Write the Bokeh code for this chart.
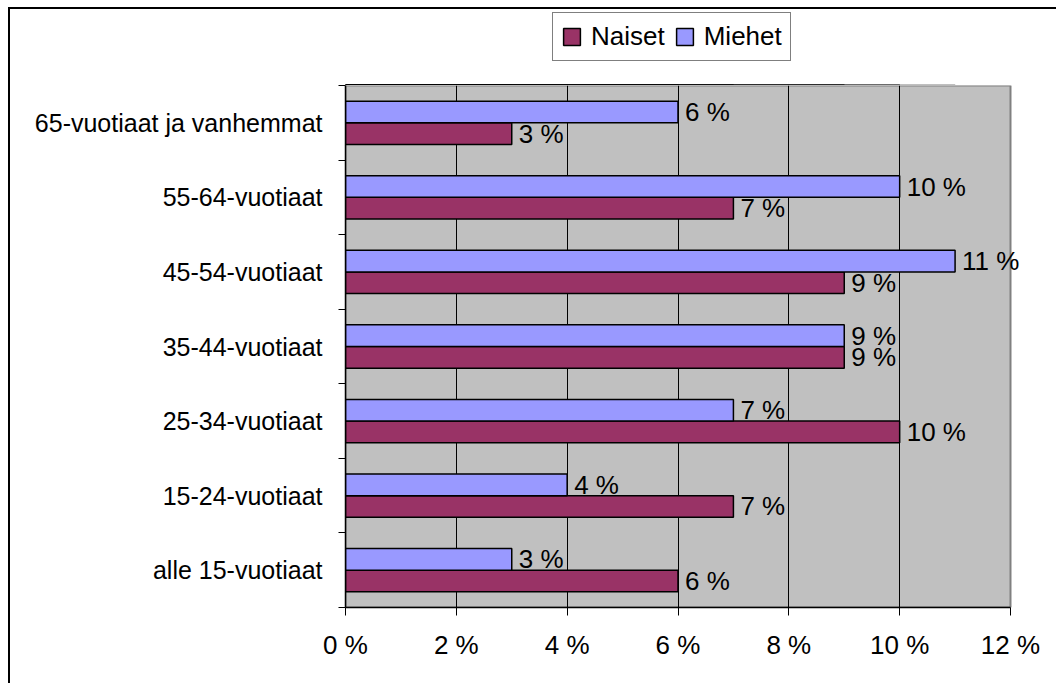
import numpy as np
from bokeh.plotting import figure
from bokeh.layouts import column
from bokeh.models import (ColumnDataSource, Range1d, FixedTicker, PrintfTickFormatter,
                          CustomJSTickFormatter, Legend, LegendItem)
from bokeh.transform import dodge
from bokeh.core.properties import value
from bokeh.embed import file_html
from bokeh.resources import INLINE

categories = ["alle 15-vuotiaat", "15-24-vuotiaat", "25-34-vuotiaat", "35-44-vuotiaat",
              "45-54-vuotiaat", "55-64-vuotiaat", "65-vuotiaat ja vanhemmat"]
naiset = [6, 7, 10, 9, 9, 7, 3]
miehet = [3, 4, 7, 9, 11, 10, 6]
x_ticks = [0, 2, 4, 6, 8, 10, 12]
series_names = ["Naiset", "Miehet"]

FONT = "Liberation Sans"
C_NAISET = "#993366"
C_MIEHET = "#9999FF"

idx = np.arange(len(categories))
src = ColumnDataSource(dict(
    y=idx + 0.5,
    naiset=naiset,
    miehet=miehet,
    naiset_lbl=[f"{v} %" for v in naiset],
    miehet_lbl=[f"{v} %" for v in miehet],
))

W = 1046
ML, MR = 335, 24
AXIS_W = 665                     # pixels used by 0..12 %
FRAME_W = W - ML - MR            # frame slightly wider so end labels are not clipped
x_max = x_ticks[-1]
x_end = x_max * FRAME_W / AXIS_W

# ---------------- legend strip (frame aligned with main chart) ----------------
lf = figure(width=W, height=76, output_backend="svg", toolbar_location=None,
            x_range=Range1d(0, x_end), y_range=Range1d(100, 101),
            x_axis_location=None, y_axis_location=None,
            min_border_left=ML, min_border_right=MR, min_border_top=0, min_border_bottom=0)
lf.xgrid.grid_line_color = None
lf.ygrid.grid_line_color = None
lf.outline_line_color = None
lf.background_fill_color = "white"
lf.border_fill_color = "white"
# same series, drawn outside this strip's visible range: only their legend swatches show
d_n = lf.hbar(y="y", right="naiset", left=0, height=0.29, source=src,
              fill_color=C_NAISET, line_color="black", line_width=1.5)
d_m = lf.hbar(y="y", right="miehet", left=0, height=0.29, source=src,
              fill_color=C_MIEHET, line_color="black", line_width=1.5)
legend = Legend(items=[LegendItem(label=series_names[0], renderers=[d_n]),
                       LegendItem(label=series_names[1], renderers=[d_m])],
                orientation="horizontal", location=(207, 24))
legend.label_text_font = FONT
legend.label_text_font_size = "26px"
legend.label_text_color = "black"
legend.glyph_width = 21
legend.glyph_height = 21
legend.label_standoff = 9
legend.spacing = 9
legend.padding = 8
legend.margin = 0
legend.border_line_color = "black"
legend.border_line_width = 1
legend.background_fill_color = "white"
legend.background_fill_alpha = 1
lf.add_layout(legend, "center")

# ---------------- main chart ----------------
p = figure(width=W, height=598, output_backend="svg", toolbar_location=None,
           x_range=Range1d(0, x_end), y_range=Range1d(0, len(categories)),
           min_border_left=ML, min_border_right=MR, min_border_top=0, min_border_bottom=76)
p.background_fill_color = "white"
p.border_fill_color = "white"
p.outline_line_color = None

# grey plot area 0..12 % with grey border
p.quad(left=[0], right=[x_max], bottom=[0], top=[len(categories)],
       fill_color="#C0C0C0", line_color="#808080", line_width=2, level="image")

bar_h = 0.29
off = bar_h / 2
r_n = p.hbar(y=dodge("y", -off), right="naiset", left=0, height=bar_h, source=src,
             fill_color=C_NAISET, line_color="black", line_width=1.5)
r_m = p.hbar(y=dodge("y", off), right="miehet", left=0, height=bar_h, source=src,
             fill_color=C_MIEHET, line_color="black", line_width=1.5)

p.text(x="naiset", y=dodge("y", -off), text="naiset_lbl", source=src, x_offset=7,
       text_baseline="middle", text_align="left", text_font=value(FONT),
       text_font_size="26px", text_color="black")
p.text(x="miehet", y=dodge("y", off), text="miehet_lbl", source=src, x_offset=7,
       text_baseline="middle", text_align="left", text_font=value(FONT),
       text_font_size="26px", text_color="black")

# x axis
p.xaxis.bounds = (0, x_max)
p.xaxis.ticker = FixedTicker(ticks=x_ticks)
p.xaxis.formatter = PrintfTickFormatter(format="%d %%")
p.xaxis.major_label_text_font = FONT
p.xaxis.major_label_text_font_size = "26px"
p.xaxis.major_label_text_color = "black"
p.xaxis.axis_line_color = "black"
p.xaxis.axis_line_width = 1.5
p.xaxis.major_tick_line_color = "black"
p.xaxis.major_tick_in = 0
p.xaxis.major_tick_out = 8
p.xaxis.minor_tick_line_color = None
p.xaxis.major_label_standoff = 14

# y axis: labels at category centres, ticks at boundaries
p.yaxis.ticker = FixedTicker(ticks=list(idx + 0.5), minor_ticks=list(range(len(categories) + 1)))
p.yaxis.formatter = CustomJSTickFormatter(args=dict(labels=categories),
                                          code="return labels[Math.floor(tick)];")
p.yaxis.major_label_text_font = FONT
p.yaxis.major_label_text_font_size = "25px"
p.yaxis.major_label_text_color = "black"
p.yaxis.axis_line_color = "black"
p.yaxis.axis_line_width = 1.5
p.yaxis.major_tick_in = 0
p.yaxis.major_tick_out = 0
p.yaxis.minor_tick_in = 0
p.yaxis.minor_tick_out = 7
p.yaxis.minor_tick_line_color = "black"
p.yaxis.major_label_standoff = 16

p.xgrid.ticker = FixedTicker(ticks=x_ticks[1:-1])
p.xgrid.grid_line_color = "black"
p.xgrid.grid_line_width = 1
p.ygrid.grid_line_color = None

layout = column(lf, p, spacing=0)
layout.styles = {"border-top": "2px solid black", "border-left": "2px solid black",
                 "margin-left": "8px", "margin-top": "7px"}

open("out.html", "w").write(file_html(layout, INLINE))
